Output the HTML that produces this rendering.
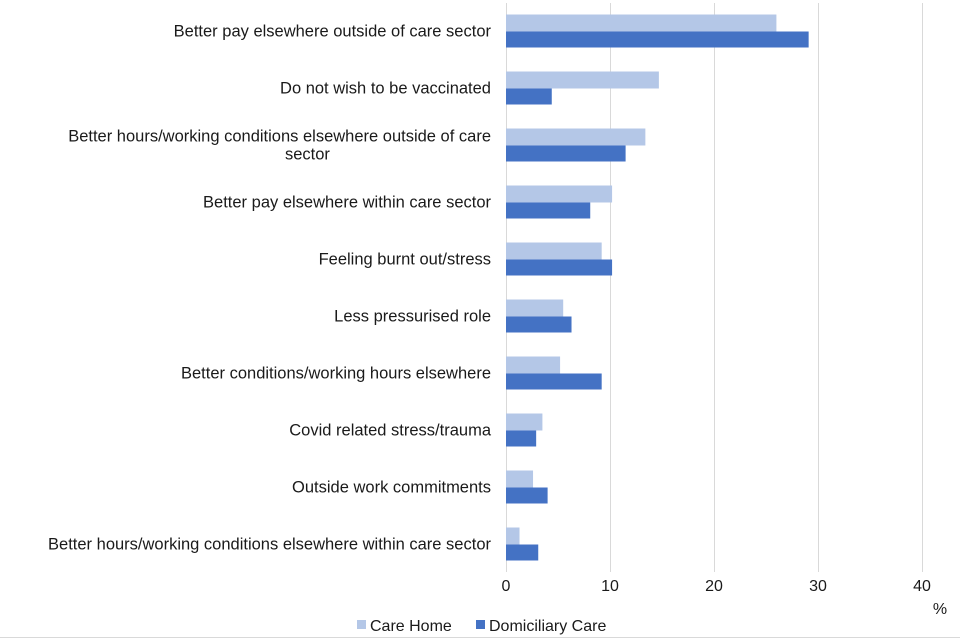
<!DOCTYPE html>
<html><head><meta charset="utf-8"><style>
body{margin:0;background:#fff;font-family:"Liberation Sans",Arial,sans-serif;overflow:hidden;}
svg{display:block;}
svg text{font-family:"Liberation Sans",Arial,sans-serif;fill:#1a1a1a;}
</style></head><body>
<svg width="960" height="640" xmlns="http://www.w3.org/2000/svg">
<g id="grid"></g><g id="bars"></g><g id="labels"></g><g id="ticks"></g>
<text x="940" y="614" font-size="16" text-anchor="middle">%</text>
<g>
<rect x="357" y="620" width="9" height="9" fill="#b4c7e7"/>
<text x="370" y="631" font-size="16">Care Home</text>
<rect x="476" y="620" width="9" height="9" fill="#4472c4"/>
<text x="489" y="631" font-size="16">Domiciliary Care</text>
</g>
<line x1="0" y1="637.5" x2="960" y2="637.5" stroke="#d9d9d9"/>
</svg>
<script>
const categories=[["Better pay elsewhere outside of care sector"],["Do not wish to be vaccinated"],["Better hours/working conditions elsewhere outside of care","sector"],["Better pay elsewhere within care sector"],["Feeling burnt out/stress"],["Less pressurised role"],["Better conditions/working hours elsewhere"],["Covid related stress/trauma"],["Outside work commitments"],["Better hours/working conditions elsewhere within care sector"]];
const careHome=[26,14.7,13.4,10.2,9.2,5.5,5.2,3.5,2.6,1.3];
const domiciliary=[29.1,4.4,11.5,8.1,10.2,6.3,9.2,2.9,4.0,3.1];
const ticks=[0,10,20,30,40];
const NS="http://www.w3.org/2000/svg";
const x=v=>506+v*10.4;
const yc=i=>31.5+57*i;
function mk(t,a,p){const e=document.createElementNS(NS,t);for(const k in a)e.setAttribute(k,a[k]);document.getElementById(p).appendChild(e);return e;}
ticks.forEach(t=>{
 const l=mk('line',{x1:x(t)+.5,x2:x(t)+.5,y1:3,y2:572,stroke:'#d9d9d9'},'grid');
 
 
 const tx=mk('text',{x:x(t),y:591,'font-size':16,'text-anchor':'middle'},'ticks');
 tx.textContent=t;
 
 
});
categories.forEach((c,i)=>{
 const a=mk('rect',{x:x(0),y:yc(i)-17,width:x(careHome[i])-x(0),height:17,fill:'#b4c7e7'},'bars');
 
 
 const b=mk('rect',{x:x(0),y:yc(i),width:x(domiciliary[i])-x(0),height:16,fill:'#4472c4'},'bars');
 
 
 const tx=mk('text',{x:491,'font-size':16.5,'text-anchor':'end'},'labels');
 
 
 const n=c.length;
 c.forEach((s,j)=>{const ts=document.createElementNS(NS,'tspan');ts.setAttribute('x',491);ts.setAttribute('y',yc(i)+5+(j-(n-1)/2)*18);ts.textContent=s;tx.appendChild(ts);});
 if(n>1){tx.childNodes[1].setAttribute('text-anchor','start');tx.childNodes[1].setAttribute('x',285);}
});
</script>
</body></html>
